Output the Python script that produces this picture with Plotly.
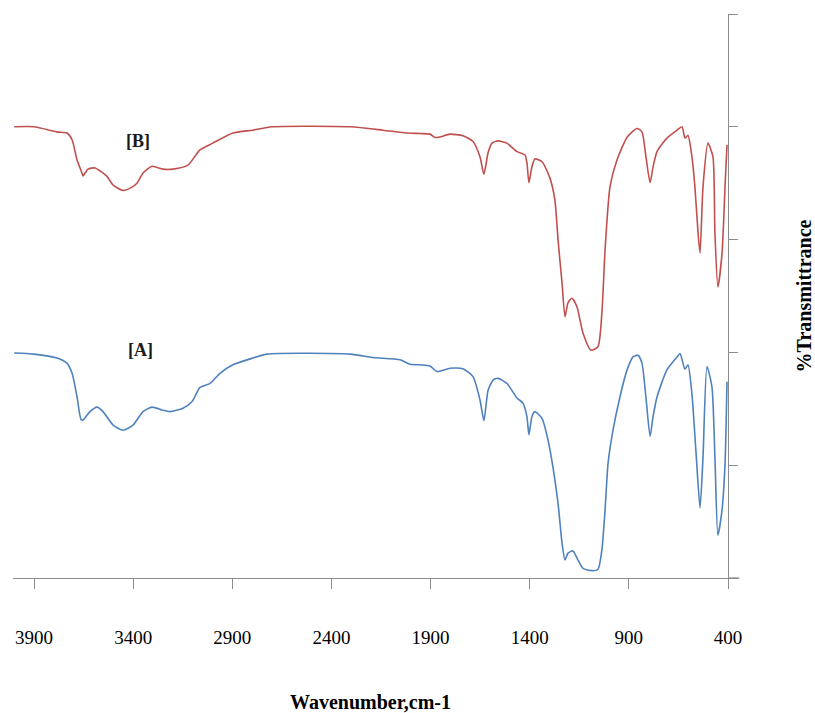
import plotly.graph_objects as go

# Spectrum B (red, upper)
wn_b = [4000, 3900, 3784, 3734, 3708, 3683, 3660, 3653, 3628, 3592, 3532, 3502, 3451, 3406, 3381,
        3350, 3305, 3250, 3199, 3124, 3063, 2998, 2897, 2796, 2700, 2306, 2140, 2019, 1953, 1903,
        1878, 1853, 1802, 1737, 1686, 1651, 1631, 1610, 1590, 1560, 1515, 1464, 1424, 1414, 1404,
        1389, 1374, 1338, 1298, 1273, 1257, 1237, 1222, 1207, 1187, 1162, 1131, 1091, 1056, 1036,
        1020, 995, 960, 908, 859, 834, 814, 793, 778, 758, 708, 657, 632, 617, 602, 582, 567, 551,
        541, 526, 501, 476, 466, 451, 430, 415, 405]
t_b = [80.0, 80.0, 79.1, 78.9, 77.7, 74.1, 72.0, 71.3, 72.5, 72.7, 71.2, 69.7, 68.7, 69.3, 70.0,
       71.8, 73.0, 72.5, 72.5, 73.2, 75.9, 77.1, 78.9, 79.4, 80.0, 80.0, 79.4, 78.9, 78.8, 78.7,
       78.1, 78.2, 78.7, 78.4, 77.4, 74.7, 71.6, 75.4, 77.1, 77.5, 77.1, 75.6, 75.0, 73.6, 70.1,
       72.9, 74.3, 73.8, 70.9, 67.0, 59.9, 52.3, 46.3, 48.8, 49.6, 48.1, 43.4, 40.4, 41.0, 47.0,
       58.2, 69.4, 74.1, 78.2, 79.7, 79.1, 74.7, 70.1, 72.9, 75.6, 78.0, 79.4, 80.0, 78.0, 78.5,
       74.7, 69.4, 61.2, 57.6, 69.4, 77.1, 74.7, 61.2, 51.6, 57.6, 69.4, 76.8]

# Spectrum A (blue, lower)
wn_a = [4000, 3900, 3784, 3734, 3708, 3683, 3663, 3653, 3618, 3582, 3552, 3501, 3451, 3401, 3350,
        3305, 3255, 3214, 3149, 3103, 3063, 3012, 2962, 2897, 2796, 2725, 2306, 2190, 2054, 2003,
        1953, 1903, 1868, 1802, 1737, 1686, 1651, 1631, 1610, 1585, 1560, 1515, 1464, 1434, 1414,
        1404, 1389, 1374, 1338, 1308, 1283, 1257, 1237, 1222, 1207, 1182, 1157, 1131, 1086, 1056,
        1036, 1020, 1005, 980, 945, 909, 879, 854, 834, 814, 793, 778, 758, 708, 657, 642, 617,
        602, 582, 561, 541, 526, 506, 481, 466, 451, 430, 415, 405]
t_a = [39.9, 39.7, 39.0, 38.1, 36.3, 32.1, 28.1, 28.0, 29.5, 30.3, 29.5, 27.1, 26.2, 27.1, 29.5,
       30.3, 29.8, 29.5, 30.1, 31.3, 33.8, 34.5, 36.3, 37.8, 39.0, 39.7, 39.7, 39.1, 38.7, 37.9,
       37.8, 37.6, 36.6, 37.2, 37.1, 35.7, 31.6, 27.9, 33.3, 35.1, 35.4, 34.5, 31.9, 31.0, 28.6,
       25.4, 28.6, 29.5, 28.3, 24.5, 19.7, 13.2, 6.2, 3.2, 4.4, 4.8, 3.2, 1.7, 1.3, 1.5,
       5.0, 12.1, 20.3, 26.2, 32.1, 36.9, 39.2, 39.5, 38.1, 32.1, 25.1, 28.6, 32.1, 36.9, 39.2,
       39.8, 37.0, 37.8, 32.7, 22.1, 12.4, 21.5, 37.5, 33.9, 21.5, 7.6, 12.1, 20.3, 34.8]

x_ticks = [3900, 3400, 2900, 2400, 1900, 1400, 900, 400]
y_ticks = [0, 20, 40, 60, 80, 100]

FONT = "Liberation Serif, Times New Roman, serif"
AXIS_GRAY = "#8c8c8c"

fig = go.Figure()
fig.add_trace(go.Scatter(x=wn_b, y=t_b, mode="lines",
                         line=dict(color="#C0504D", width=1.6, shape="spline", smoothing=0.6),
                         name="[B]", showlegend=False))
fig.add_trace(go.Scatter(x=wn_a, y=t_a, mode="lines",
                         line=dict(color="#4F81BD", width=1.6, shape="spline", smoothing=0.6),
                         name="[A]", showlegend=False))

fig.add_annotation(x=3375, y=77.5, text="<b>[B]</b>", showarrow=False,
                   font=dict(family=FONT, size=18, color="#1a1a1a"))
fig.add_annotation(x=3365, y=40.4, text="<b>[A]</b>", showarrow=False,
                   font=dict(family=FONT, size=18, color="#1a1a1a"))

# short extension of the baseline past the right axis
fig.add_shape(type="line", xref="paper", yref="paper", x0=1, x1=1.016, y0=0, y1=0,
              line=dict(color=AXIS_GRAY, width=1.3))

fig.update_layout(
    width=815, height=713,
    margin=dict(l=13, r=87, t=14, b=135),
    paper_bgcolor="white", plot_bgcolor="white",
    font=dict(family=FONT, size=18, color="black"),
    xaxis=dict(
        range=[4006, 400], tickvals=x_ticks, ticktext=[str(v) for v in x_ticks],
        showgrid=False, zeroline=False, showline=True, linecolor=AXIS_GRAY, linewidth=1.3,
        ticks="outside", ticklen=10, tickcolor=AXIS_GRAY, tickwidth=1.3, automargin=False,
        ticklabelstandoff=32, tickfont=dict(family=FONT, size=19, color="black"),
        title=dict(text="<b>Wavenumber,cm-1</b>", font=dict(family=FONT, size=20, color="black"),
                   standoff=50),
    ),
    yaxis=dict(
        range=[0, 100], tickvals=y_ticks, showticklabels=False, side="right",
        showgrid=False, zeroline=False, showline=True, linecolor=AXIS_GRAY, linewidth=1.3,
        ticks="outside", ticklen=9, tickcolor=AXIS_GRAY, tickwidth=1.3, automargin=False,
        title=dict(text="<b>%Transmittrance</b>", font=dict(family=FONT, size=20, color="black"),
                   standoff=71),
    ),
)

fig.write_html("out.html")
